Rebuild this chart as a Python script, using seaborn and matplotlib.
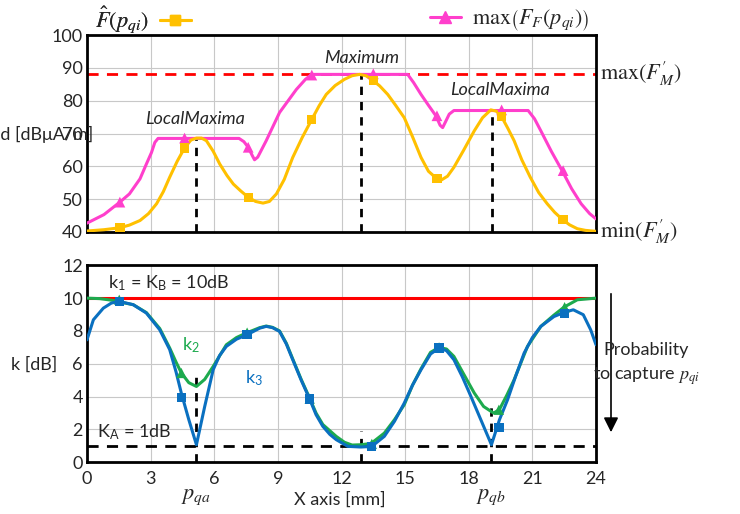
import numpy as np
import pandas as pd
import matplotlib.pyplot as plt
import seaborn as sns
from matplotlib.lines import Line2D

# ------------------------------------------------------------
# veriler
# ------------------------------------------------------------

# ust grafik - max(F_F(p_qi)) egrisi
pink_x = [0, 0.8, 1.55, 2.0, 2.5, 2.8, 3.04, 3.2, 3.35, 7.17, 7.4, 7.6, 7.8, 7.9, 8.05,
          8.45, 9.08, 9.87, 10.3, 10.6, 15.12, 15.4, 15.75, 16.1, 16.45, 16.65, 16.77,
          16.9, 17.08, 17.3, 20.8, 21.1, 21.4, 21.9, 22.4, 22.85, 23.3, 23.7, 24]
pink_y = [42.7, 45.3, 49.1, 51.6, 56.2, 60.7, 64.2, 67.3, 68.5, 68.5, 67.5, 65.8, 63.2, 62.0, 62.8,
          67.8, 76.4, 83.4, 86.5, 88.0, 88.0, 85.5, 81.9, 78.6, 75.4, 72.5, 71.8,
          73.5, 75.9, 77.0, 77.0, 74.5, 70.8, 64.5, 58.7, 53.2, 48.6, 45.6, 44.0]

# ust grafik - F^(p_qi) egrisi
yel_x = [0, 0.8, 1.55, 2.0, 2.5, 2.9, 3.28, 3.6, 3.9, 4.25, 4.6, 4.9, 5.16, 5.4, 5.63, 5.95,
         6.26, 6.6, 6.9, 7.25, 7.6, 7.95, 8.3, 8.6, 8.93, 9.3, 9.7, 10.15, 10.6, 10.95,
         11.28, 11.7, 12.14, 12.5, 12.85, 13.15, 13.47, 13.8, 14.18, 14.55, 14.96, 15.35,
         15.75, 16.1, 16.5, 16.7, 17.0, 17.3, 17.75, 18.26, 18.65, 19.04, 19.3, 19.55,
         19.85, 20.14, 20.5, 20.9, 21.3, 21.7, 22.05, 22.4, 22.75, 23.12, 23.5, 24]
yel_y = [40.3, 40.7, 41.3, 42.1, 43.5, 45.6, 48.6, 52.3, 56.7, 61.5, 65.6, 68.0, 68.6, 68.6, 67.8, 64.6,
         60.7, 57.2, 54.6, 52.5, 50.6, 49.3, 48.8, 49.3, 51.6, 56.0, 62.7, 68.8, 74.3, 78.5,
         81.9, 84.6, 86.5, 87.6, 88.0, 87.6, 86.2, 84.5, 81.9, 78.6, 74.8, 69.0,
         62.7, 58.5, 56.2, 55.8, 57.0, 59.7, 64.8, 70.8, 74.8, 77.2, 76.8, 75.1,
         71.5, 67.8, 62.0, 56.7, 52.0, 48.6, 46.0, 43.9, 42.2, 41.0, 40.5, 40.2]

# ust grafik isaretciler
mark_x = [1.55, 4.6, 7.6, 10.6, 13.5, 16.5, 19.55, 22.45]
pink_mark = [49.1, 68.6, 65.8, 87.8, 88.2, 75.4, 77.2, 58.7]
yel_mark = [41.3, 65.6, 50.6, 74.3, 86.2, 56.2, 75.1, 43.9]

# alt grafik - k3 (mavi)
k3_x = [0, 0.3, 0.77, 1.15, 1.52, 2.18, 2.8, 3.43, 3.9, 4.2, 4.45, 4.8, 5.16, 5.55, 5.95,
        6.25, 6.57, 7.05, 7.55, 8.14, 8.45, 8.75, 9.08, 9.4, 9.7, 10.1, 10.5, 10.8, 11.12,
        11.45, 11.75, 12.3, 12.92, 13.43, 14.02, 14.5, 14.96, 15.35, 15.75, 16.2, 16.6,
        16.95, 17.3, 17.7, 18.1, 18.6, 19.07, 19.45, 19.83, 20.2, 20.61, 21.0, 21.4, 22.02,
        22.54, 22.93, 23.4, 23.75, 24]
k3_y = [7.46, 8.68, 9.39, 9.7, 9.8, 9.6, 9.09, 8.07, 6.86, 5.5, 4.2, 2.6, 1.07, 3.4, 5.64,
        6.5, 7.06, 7.5, 7.77, 8.17, 8.28, 8.2, 7.97, 7.2, 6.25, 5.0, 3.85, 2.9, 2.19,
        1.7, 1.38, 0.97, 0.93, 0.97, 1.58, 2.5, 3.61, 4.7, 5.64, 6.6, 6.96,
        6.8, 6.25, 5.2, 4.02, 2.5, 1.07, 2.6, 3.81, 5.2, 6.65, 7.6, 8.28, 8.88,
        9.15, 9.29, 8.99, 8.07, 7.16]

# alt grafik - k2 (yesil)
k2_x = [0, 0.6, 1.24, 1.8, 2.18, 2.8, 3.43, 3.9, 4.2, 4.45, 4.8, 5.16, 5.55, 5.95, 6.57,
        7.05, 7.5, 8.14, 8.45, 8.75, 9.08, 9.4, 9.7, 10.1, 10.5, 10.8, 11.12, 11.75, 12.14,
        12.5, 12.92, 13.4, 14.02, 14.5, 14.96, 15.35, 15.75, 16.2, 16.6, 16.95, 17.3, 17.75,
        18.26, 18.7, 19.17, 19.44, 19.8, 20.14, 20.77, 21.4, 22.0, 22.49, 23.12, 24]
k2_y = [10.0, 9.97, 9.86, 9.7, 9.6, 9.12, 8.15, 6.96, 6.1, 5.44, 4.85, 4.62, 5.05, 5.84, 7.16,
        7.6, 7.87, 8.2, 8.3, 8.22, 8.0, 7.25, 6.3, 5.05, 3.9, 3.0, 2.3, 1.58, 1.22,
        1.05, 1.07, 1.15, 1.78, 2.6, 3.51, 4.7, 5.7, 6.7, 7.0, 6.9, 6.45, 5.4,
        4.22, 3.4, 3.0, 3.2, 4.1, 5.03, 7.06, 8.28, 8.95, 9.45, 9.9, 10.0]

# alt grafik isaretciler
k_mark_x = [1.52, 4.45, 7.55, 10.5, 13.43, 16.6, 19.42, 22.52]
k2_mark = [9.9, 5.44, 7.9, 3.88, 1.12, 7.0, 3.2, 9.45]
k3_mark = [9.8, 3.95, 7.8, 3.85, 0.97, 6.96, 2.13, 9.05]

# yatay referans seviyeleri ve dikey kesikli cizgiler
f_max, f_min = 88.0, 40
k_b, k_a = 10, 1
top_vx = [5.13, 12.9, 19.09]
top_vtop = [68.6, 88.0, 77.2]
bot_vx = [5.13, 12.9, 19.07]
bot_vtop = [5.54, 1.89, 3.57]

x_ticks = list(range(0, 25, 3))

# renkler
PINK = '#FF3FCC'
YEL = '#FFC000'
GREEN = '#1DAA4E'
BLUE = '#0A70C0'
RED = '#FF0000'

# ------------------------------------------------------------
# stil
# ------------------------------------------------------------
sns.set_style('whitegrid', {'axes.edgecolor': 'black', 'grid.color': '#C8C8C8'})
plt.rcParams['font.family'] = ['Lato', 'DejaVu Sans']
plt.rcParams['mathtext.fontset'] = 'stix'
plt.rcParams['axes.linewidth'] = 2

fig = plt.figure(figsize=(7.4, 5.14), dpi=100)
ax1 = fig.add_axes([87 / 740, 1 - 232 / 514, 509 / 740, 197 / 514])
ax2 = fig.add_axes([87 / 740, 1 - 462.3 / 514, 509 / 740, 197 / 514])

# ------------------------------------------------------------
# ust grafik
# ------------------------------------------------------------
ax1.axhline(f_max, color=RED, lw=2, ls=(0, (4, 3)), zorder=2)
for vx, vt in zip(top_vx, top_vtop):
    ax1.plot([vx, vx], [f_min, vt], color='black', lw=2, ls=(0, (3, 2.5)), zorder=2)

sns.lineplot(x=pink_x, y=pink_y, ax=ax1, color=PINK, lw=2.2, sort=False, zorder=3)
sns.lineplot(x=yel_x, y=yel_y, ax=ax1, color=YEL, lw=2.2, sort=False, zorder=3)
sns.scatterplot(x=mark_x, y=pink_mark, ax=ax1, color=PINK, marker='^', s=60,
                edgecolor='none', zorder=4)
sns.scatterplot(x=mark_x, y=yel_mark, ax=ax1, color=YEL, marker='s', s=45,
                edgecolor='none', zorder=4)

ax1.set_xlim(0, 24)
ax1.set_ylim(40, 100)
ax1.set_xticks(x_ticks)
ax1.set_xticklabels([])
ax1.set_yticks(range(40, 101, 10))
ax1.tick_params(axis='y', labelsize=13, pad=3, length=0)
ax1.tick_params(axis='x', length=0)
ax1.set_xlabel('')
ax1.set_ylabel('')

ax1.text(5.11, 74.3, 'LocalMaxima', style='italic', fontsize=13, ha='center', va='center')
ax1.text(12.96, 93.0, 'Maximum', style='italic', fontsize=13, ha='center', va='center')
ax1.text(19.46, 83.4, 'LocalMaxima', style='italic', fontsize=13, ha='center', va='center')

ax1.text(24.2, f_max, r"$\max(F^{\prime}_{M})$", fontsize=16, ha='left', va='center')
ax1.text(24.2, f_min, r"$\min(F^{\prime}_{M})$", fontsize=16, ha='left', va='center')

fig.text(93 / 740, 1 - 134 / 514, 'Field [dBμA/m]', fontsize=13, ha='right', va='center')

# lejant
h_yel = Line2D([], [], color=YEL, lw=2.2, marker='s', markersize=7)
h_pink = Line2D([], [], color=PINK, lw=2.2, marker='^', markersize=8)
leg1 = fig.legend(handles=[h_yel], labels=[r'$\hat{F}(p_{qi})$'], loc='center left',
                  bbox_to_anchor=(84 / 740, 1 - 20 / 514), markerfirst=False, frameon=False,
                  fontsize=16, handlelength=1.4, handletextpad=0.5, borderpad=0)
leg2 = fig.legend(handles=[h_pink], labels=[r'$\max\left(F_F(p_{qi})\right)$'], loc='center right',
                  bbox_to_anchor=(600 / 740, 1 - 20 / 514), markerfirst=True, frameon=False,
                  fontsize=16, handlelength=1.4, handletextpad=0.5, borderpad=0)
fig.add_artist(leg1)

# ------------------------------------------------------------
# alt grafik
# ------------------------------------------------------------
ax2.axhline(k_b, color=RED, lw=2.2, zorder=2)
ax2.axhline(k_a, color='black', lw=2, ls=(0, (4, 3)), zorder=2)
for vx, vt in zip(bot_vx, bot_vtop):
    ax2.plot([vx, vx], [0, vt], color='black', lw=2, ls=(0, (3, 2.5)), zorder=2)

sns.lineplot(x=k2_x, y=k2_y, ax=ax2, color=GREEN, lw=2.2, sort=False, zorder=3)
sns.lineplot(x=k3_x, y=k3_y, ax=ax2, color=BLUE, lw=2.2, sort=False, zorder=3)
sns.scatterplot(x=k_mark_x, y=k2_mark, ax=ax2, color=GREEN, marker='^', s=55,
                edgecolor='none', zorder=4)
sns.scatterplot(x=k_mark_x, y=k3_mark, ax=ax2, color=BLUE, marker='s', s=45,
                edgecolor='none', zorder=5)

ax2.set_xlim(0, 24)
ax2.set_ylim(0, 12)
ax2.set_xticks(x_ticks)
ax2.set_yticks(range(0, 13, 2))
ax2.tick_params(axis='both', labelsize=13, length=0)
ax2.tick_params(axis='y', pad=3)
ax2.tick_params(axis='x', pad=6)
ax2.set_xlabel('')
ax2.set_ylabel('')

ax2.text(1.0, 10.9, r'k$_\mathregular{1}$ = K$_\mathregular{B}$ = 10dB', fontsize=13,
         ha='left', va='center')
ax2.text(0.46, 1.8, r'K$_\mathregular{A}$ = 1dB', fontsize=13, ha='left', va='center')
ax2.text(4.47, 7.1, r'k$_\mathregular{2}$', fontsize=13, color=GREEN, ha='left', va='center')
ax2.text(7.44, 5.1, r'k$_\mathregular{3}$', fontsize=13, color=BLUE, ha='left', va='center')

fig.text(57 / 740, 1 - 365 / 514, 'k [dB]', fontsize=13, ha='right', va='center')
fig.text(340 / 740, 1 - 500 / 514, 'X axis [mm]', fontsize=13, ha='center', va='center')
fig.text((87 + 5.13 * 21.2) / 740, 1 - 497 / 514, r'$p_{qa}$', fontsize=16, ha='center', va='center')
fig.text((87 + 19.07 * 21.2) / 740, 1 - 497 / 514, r'$p_{qb}$', fontsize=16, ha='center', va='center')

# olasilik oku
ax2.annotate('', xy=(611 / 740, 1 - 435 / 514), xytext=(611 / 740, 1 - 291 / 514),
             xycoords='figure fraction', textcoords='figure fraction',
             arrowprops=dict(arrowstyle='-|>', color='black', lw=1.2, mutation_scale=22))
fig.text(646 / 740, 1 - 350 / 514, 'Probability', fontsize=13, ha='center', va='center')
fig.text(646 / 740, 1 - 376 / 514, r'to capture $p_{qi}$', fontsize=13, ha='center', va='center')

plt.savefig('out.png', dpi=100)
plt.close()
